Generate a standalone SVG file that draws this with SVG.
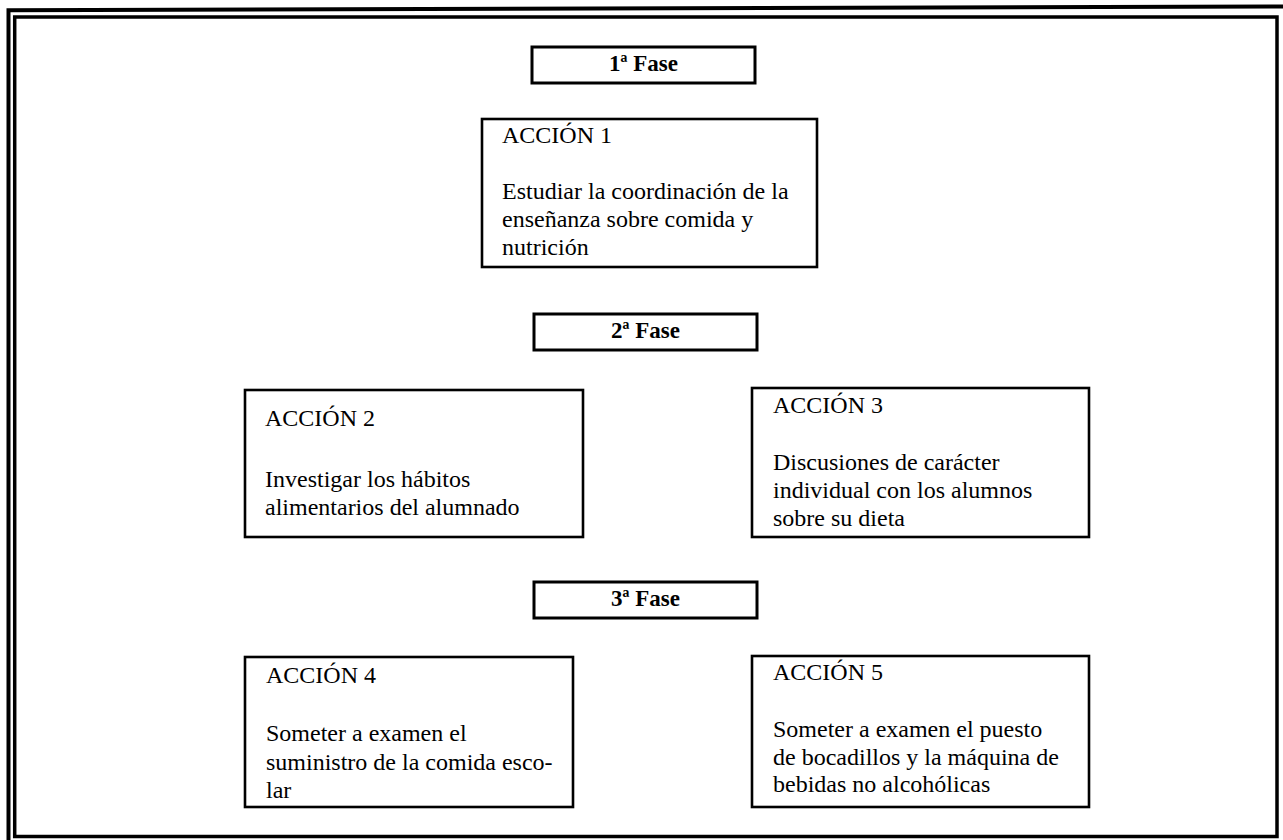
<svg xmlns="http://www.w3.org/2000/svg" width="1283" height="840" viewBox="0 0 1283 840">
<style>
.box{fill:#fff;stroke:#000;stroke-width:2.6}
.fase{fill:#fff;stroke:#000;stroke-width:3}
.t{font-family:'Liberation Serif',Tinos,'Times New Roman',Times,'DejaVu Serif',serif;font-size:24px;fill:#000}
.f{font-family:'Liberation Serif',Tinos,'Times New Roman',Times,'DejaVu Serif',serif;font-size:23px;font-weight:bold;fill:#000;text-anchor:middle}
.frame{fill:none;stroke:#000}
</style>
<rect width="1283" height="840" fill="#fff"/>
<g id="frame">
<polyline class="frame" stroke-width="4" points="1283,6.5 8.5,10.3 8.5,840"/>
<rect class="frame" stroke-width="3.5" x="14.7" y="17" width="1262.3" height="819.5"/>
</g>
<g id="connectors"></g>
<g id="fase1">
<rect class="fase" x="532" y="47" width="223" height="36"/>
<text class="f" x="643.5" y="71">1ª Fase</text>
</g>
<g id="accion1">
<rect class="box" x="482" y="119" width="335" height="148"/>
<text class="t" x="502" y="143">ACCIÓN 1</text>
<text class="t" x="502" y="199">Estudiar la coordinación de la</text>
<text class="t" x="502" y="227">enseñanza sobre comida y</text>
<text class="t" x="502" y="255">nutrición</text>
</g>
<g id="fase2">
<rect class="fase" x="534" y="314" width="223" height="36"/>
<text class="f" x="645.5" y="338">2ª Fase</text>
</g>
<g id="accion2">
<rect class="box" x="245" y="390" width="338" height="147"/>
<text class="t" x="265" y="426">ACCIÓN 2</text>
<text class="t" x="265" y="487">Investigar los hábitos</text>
<text class="t" x="265" y="515">alimentarios del alumnado</text>
</g>
<g id="accion3">
<rect class="box" x="752" y="388" width="337" height="149"/>
<text class="t" x="773" y="413">ACCIÓN 3</text>
<text class="t" x="773" y="470">Discusiones de carácter</text>
<text class="t" x="773" y="498">individual con los alumnos</text>
<text class="t" x="773" y="526">sobre su dieta</text>
</g>
<g id="fase3">
<rect class="fase" x="534" y="582" width="223" height="36"/>
<text class="f" x="645.5" y="606">3ª Fase</text>
</g>
<g id="accion4">
<rect class="box" x="245" y="657" width="328" height="150"/>
<text class="t" x="266" y="683">ACCIÓN 4</text>
<text class="t" x="266" y="741">Someter a examen el</text>
<text class="t" x="266" y="770">suministro de la comida esco-</text>
<text class="t" x="266" y="798">lar</text>
</g>
<g id="accion5">
<rect class="box" x="752" y="656" width="337" height="151"/>
<text class="t" x="773" y="680">ACCIÓN 5</text>
<text class="t" x="773" y="737">Someter a examen el puesto</text>
<text class="t" x="773" y="765">de bocadillos y la máquina de</text>
<text class="t" x="773" y="792">bebidas no alcohólicas</text>
</g>
</svg>
